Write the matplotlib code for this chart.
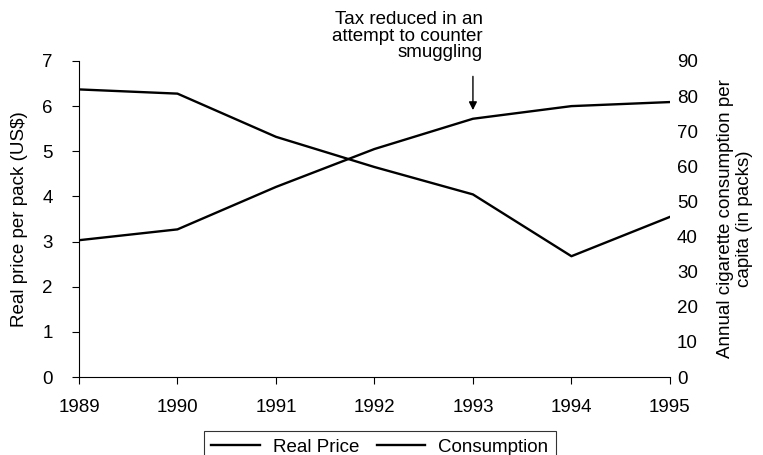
import matplotlib
matplotlib.use("Agg")
import matplotlib.pyplot as plt

# data
years = [1989, 1990, 1991, 1992, 1993, 1994, 1995]
real_price = [3.03, 3.27, 4.21, 5.05, 5.72, 6.0, 6.09]
consumption = [81.9, 80.7, 68.4, 59.8, 52.0, 34.4, 45.6]

plt.rcParams['font.family'] = ['Liberation Sans Narrow', 'Liberation Sans', 'DejaVu Sans']
plt.rcParams['font.size'] = 13.5

fig = plt.figure(figsize=(7.63, 4.55), dpi=100)
ax = fig.add_axes([0.1035, 0.1714, 0.7745, 0.6946])
ax2 = ax.twinx()

l1, = ax.plot(years, real_price, color='black', lw=1.7)
l2, = ax2.plot(years, consumption, color='black', lw=1.7)

ax.set_xlim(1989, 1995)
ax.set_ylim(0, 7)
ax2.set_ylim(0, 90)
ax.set_xticks(years)
ax.set_yticks(range(0, 8))
ax2.set_yticks(range(0, 100, 10))

for a in (ax, ax2):
    a.spines['top'].set_visible(False)
ax.spines['right'].set_visible(False)
ax2.spines['right'].set_visible(False)
ax2.spines['left'].set_visible(False)
ax2.spines['bottom'].set_visible(False)
ax.spines['left'].set_linewidth(0.8)
ax.spines['bottom'].set_linewidth(0.8)
ax.tick_params(axis='y', direction='out', length=5, width=0.8, pad=14)
ax.tick_params(axis='x', direction='out', length=5, width=0.8, pad=11)
ax2.tick_params(axis='y', length=0, pad=5)

ax.set_ylabel('Real price per pack (US$)', labelpad=10)
ax2.set_ylabel('Annual cigarette consumption per\ncapita (in packs)', labelpad=14,
               linespacing=1.15)

# annotation
ax.annotate('', xy=(1993, 5.85), xytext=(1993, 6.72),
            arrowprops=dict(arrowstyle='-|>', color='black', lw=1.0,
                            mutation_scale=12), annotation_clip=False)
ax.text(1993.1, 7.0, 'Tax reduced in an\nattempt to counter\nsmuggling',
        ha='right', va='bottom', linespacing=0.95, clip_on=False)

leg = fig.legend([l1, l2], ['Real Price', 'Consumption'], ncol=2,
                 loc='upper center', bbox_to_anchor=(0.498, 0.0725),
                 frameon=True, fancybox=False, edgecolor='black',
                 handlelength=2.6, columnspacing=0.9, borderpad=0.4,
                 handletextpad=0.7)
leg.get_frame().set_linewidth(0.8)

fig.savefig('out.png', dpi=100)
